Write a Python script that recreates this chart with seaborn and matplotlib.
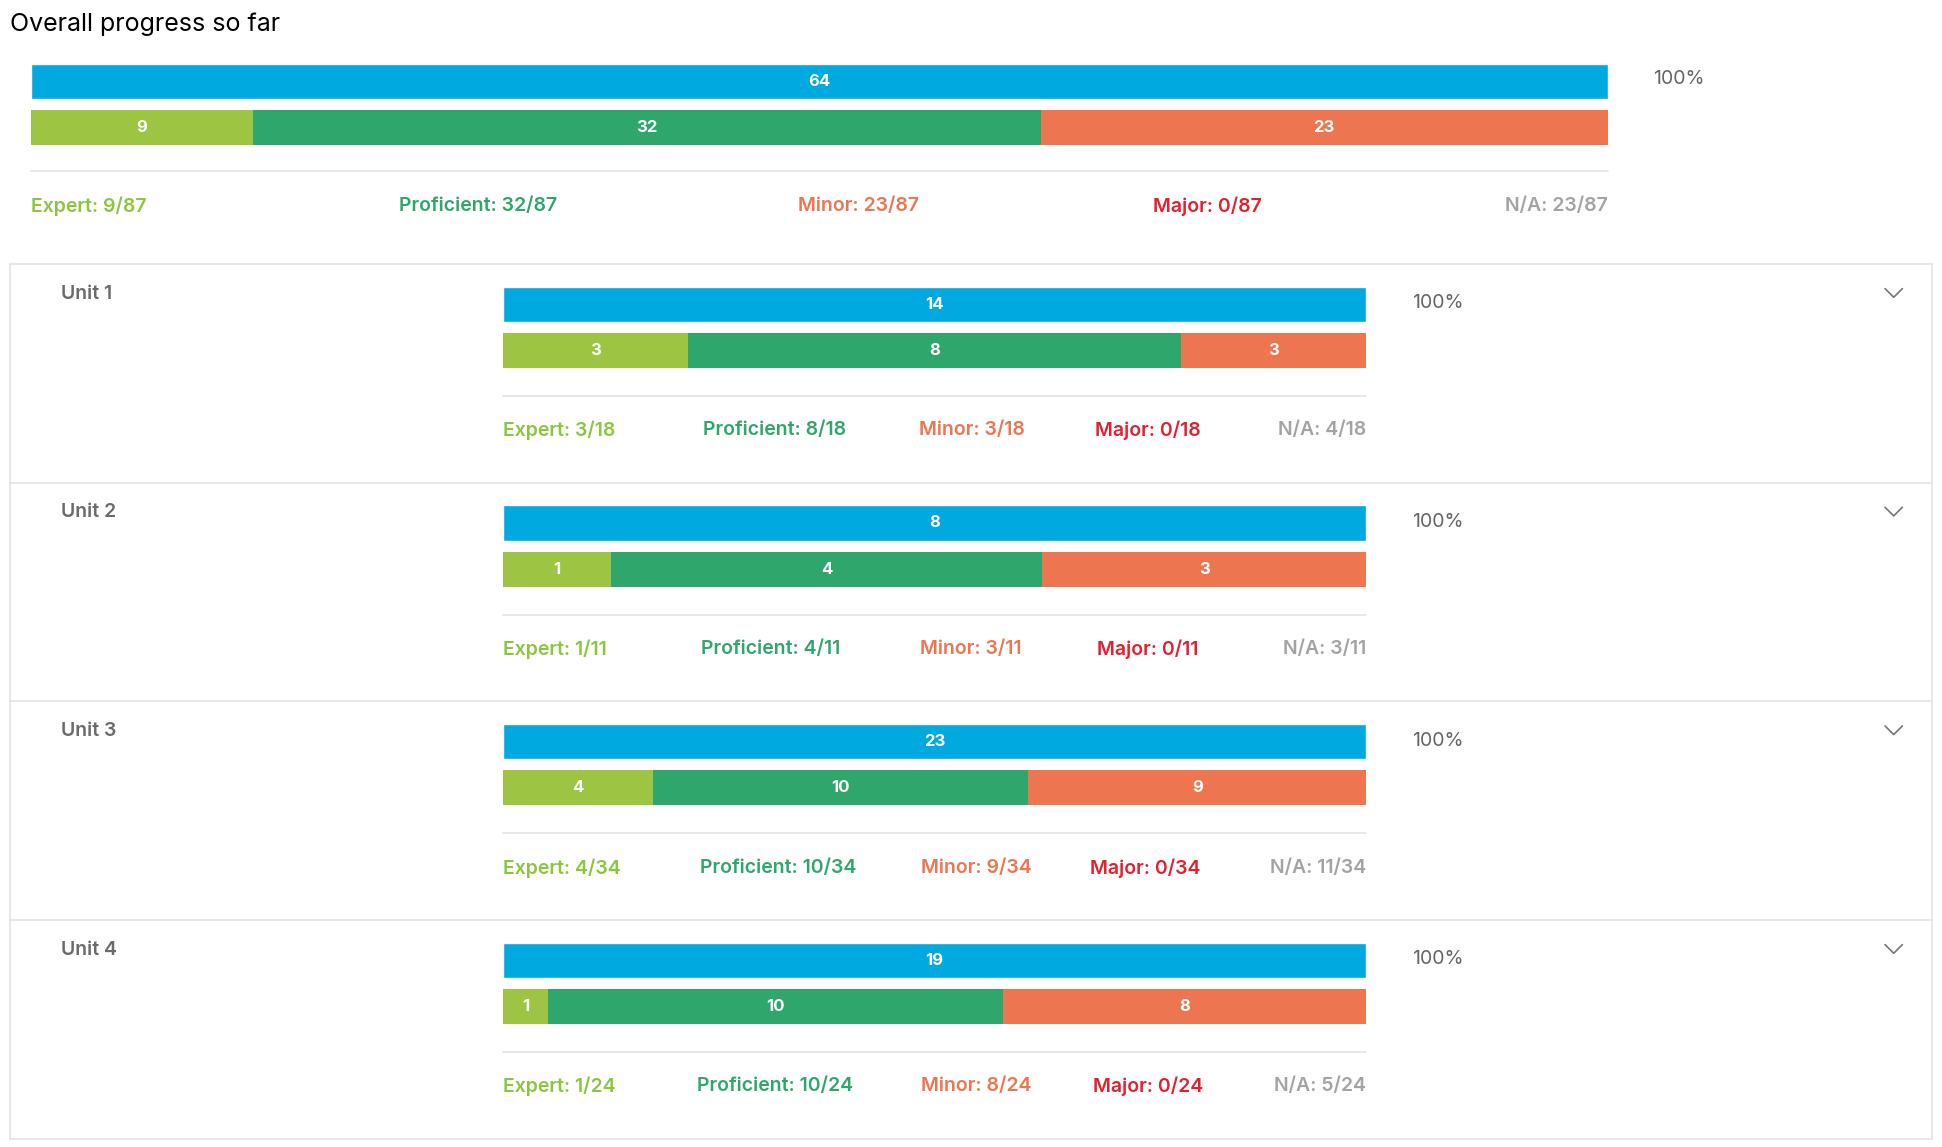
import matplotlib
matplotlib.use('Agg')
import matplotlib.pyplot as plt
import seaborn as sns
from matplotlib.lines import Line2D

# Data.
group_names = ["Overall", "Unit 1", "Unit 2", "Unit 3", "Unit 4"]
completed = [64, 14, 8, 23, 19]
expert = [9, 3, 1, 4, 1]
proficient = [32, 8, 4, 10, 10]
minor = [23, 3, 3, 9, 8]
major = [0, 0, 0, 0, 0]
not_applicable = [23, 4, 3, 11, 5]
totals = [87, 18, 11, 34, 24]
percent = ["100%", "100%", "100%", "100%", "100%"]

BLUE = "#00a9e0"
C_EXPERT = "#9dc543"
C_PROF = "#2fa66c"
C_MINOR = "#ed7650"
C_MAJOR = "#e2202f"
C_NA = "#a3a3a3"
TXT_EXPERT = "#8cc63f"
BORDER = "#e3e3e3"

W, H = 1568.0, 930.0  # layout units of the reference view


def fx(x):
    return x / W


def fy(y):
    return 1 - y / H


sns.set_style("white")
plt.rcParams['font.family'] = ['Inter', 'DejaVu Sans']
fig = plt.figure(figsize=(19.42, 11.47), dpi=100)
fig.patch.set_facecolor("white")


def draw_bars(i, x0, x1, y0):
    # axes spanning both bars: blue bar top at y0, stacked bar bottom at y0+75
    ax = fig.add_axes([fx(x0), fy(y0 + 75), fx(x1) - fx(x0), 75 / H])
    ax.set_xlim(0, completed[i])
    ax.set_ylim(1.5, -0.5)
    ax.axis("off")
    sns.barplot(x=[completed[i]], y=[0], orient="h", color=BLUE,
                width=0.76, ax=ax, native_scale=True, saturation=1)
    ax.text(completed[i] / 2, 0, str(completed[i]), ha="center", va="center",
            color="white", fontsize=12, fontweight="bold")
    left = 0
    for val, col in [(expert[i], C_EXPERT), (proficient[i], C_PROF),
                     (minor[i], C_MINOR), (major[i], C_MAJOR)]:
        if val > 0:
            ax.barh(1, val, left=left, height=0.76, color=col, linewidth=0)
            ax.text(left + val / 2, 1, str(val), ha="center", va="center",
                    color="white", fontsize=12, fontweight="bold")
        left += val


def stats_line(i, y, xs, x_left, x_right):
    labels = ["Expert: {}/{}".format(expert[i], totals[i]),
              "Proficient: {}/{}".format(proficient[i], totals[i]),
              "Minor: {}/{}".format(minor[i], totals[i]),
              "Major: {}/{}".format(major[i], totals[i]),
              "N/A: {}/{}".format(not_applicable[i], totals[i])]
    cols = [TXT_EXPERT, C_PROF, C_MINOR, C_MAJOR, C_NA]
    for k, (lab, col) in enumerate(zip(labels, cols)):
        if k == 0:
            fig.text(fx(x_left), fy(y), lab, ha="left", va="center", color=col,
                     fontsize=14, fontweight="semibold")
        elif k == 4:
            fig.text(fx(x_right), fy(y), lab, ha="right", va="center", color=col,
                     fontsize=14, fontweight="semibold")
        else:
            fig.text(fx(xs[k - 1]), fy(y), lab, ha="center", va="center",
                     color=col, fontsize=14, fontweight="semibold")


# Overall block
fig.text(fx(8), fy(20), "Overall progress so far", ha="left", va="center",
         fontsize=18, color="black")
draw_bars(0, 25, 1298, 47)
fig.text(fx(1335), fy(64), percent[0], ha="left", va="center", fontsize=14,
         color="#666666")
fig.add_artist(Line2D([fx(25), fx(1298)], [fy(139), fy(139)], color=BORDER, lw=1.2))
stats_line(0, 167, [386, 693, 975], 25, 1298)

# Unit blocks
unit_mid_x = [[625, 785, 927], [622, 784, 927], [628, 788, 925], [626, 788, 927]]
for u in range(1, 5):
    top = 214 + (u - 1) * 177.3
    fig.add_artist(Line2D([fx(8), fx(1560)], [fy(top), fy(top)], color=BORDER, lw=1.2))
    fig.text(fx(49), fy(top + 24), group_names[u], ha="left", va="center",
             fontsize=14, fontweight="semibold", color="#6b6b6b")
    draw_bars(u, 406, 1103, top + 14)
    fig.text(fx(1140), fy(top + 32), percent[u], ha="left", va="center",
             fontsize=14, color="#666666")
    fig.add_artist(Line2D([fx(406), fx(1103)], [fy(top + 107), fy(top + 107)],
                          color=BORDER, lw=1.2))
    stats_line(u, top + 135, unit_mid_x[u - 1], 406, 1103)
    # chevron
    fig.add_artist(Line2D([fx(1522), fx(1529), fx(1536)],
                          [fy(top + 20), fy(top + 27), fy(top + 20)],
                          color="#777777", lw=1.2))
bottom = 214 + 4 * 177.3
fig.add_artist(Line2D([fx(8), fx(1560)], [fy(bottom), fy(bottom)], color=BORDER, lw=1.2))
fig.add_artist(Line2D([fx(8), fx(8)], [fy(214), fy(bottom)], color=BORDER, lw=1.2))
fig.add_artist(Line2D([fx(1560), fx(1560)], [fy(214), fy(bottom)], color=BORDER, lw=1.2))

fig.savefig("out.png", dpi=100, facecolor="white")
